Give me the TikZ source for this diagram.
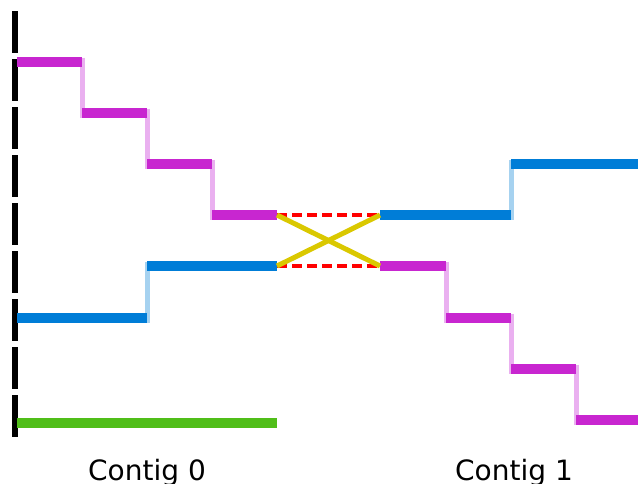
\documentclass[tikz,border=0pt]{standalone}
\usepackage{fontspec}
\setmainfont{DejaVu Sans}
\usepackage{xcolor}

\definecolor{magbar}{RGB}{200,38,208}
\definecolor{magfaint}{RGB}{234,176,240}
\definecolor{bluebar}{RGB}{0,125,215}
\definecolor{bluefaint}{RGB}{166,210,240}
\definecolor{greenbar}{RGB}{80,190,25}
\definecolor{joinyellow}{RGB}{218,200,0}

\begin{document}
\begin{tikzpicture}[x=1pt, y=-1pt,
    bar/.style={line width=9.5pt},
    riser/.style={line width=5pt, shorten <=-4.5pt, shorten >=-4.5pt},
    gap/.style={red, line width=4.5pt, dash pattern=on 10pt off 5pt},
    cross/.style={joinyellow, line width=5pt}]
    \useasboundingbox (0,0) rectangle (638,483);
    % Axis
    \draw[line width=5.5pt, dash pattern=on 42pt off 6pt] (15,11) -- (15,437);
    % Contig 0 risers
    \draw[riser, magfaint] (82,62) -- (82,113);
    \draw[riser, magfaint] (147,113) -- (147,164);
    \draw[riser, magfaint] (212,164) -- (212,215);
    \draw[riser, bluefaint] (147,318) -- (147,266);
    % Contig 0 bars
    \draw[bar, magbar] (17,62) -- (82,62);
    \draw[bar, magbar] (82,113) -- (147,113);
    \draw[bar, magbar] (147,164) -- (212,164);
    \draw[bar, magbar] (212,215) -- (277,215) coordinate (endmag);
    \draw[bar, bluebar] (17,318) -- (147,318);
    \draw[bar, bluebar] (147,266) -- (277,266) coordinate (endblue);
    \draw[bar, greenbar] (17,423) -- (277,423);
    % Contig 1 risers
    \draw[riser, bluefaint] (511,215) -- (511,164);
    \draw[riser, magfaint] (446,266) -- (446,318);
    \draw[riser, magfaint] (511,318) -- (511,369);
    \draw[riser, magfaint] (576,369) -- (576,420);
    % Contig 1 bars
    \draw[bar, bluebar] (380,215) coordinate (startblue) -- (511,215);
    \draw[bar, bluebar] (511,164) -- (638,164);
    \draw[bar, magbar] (380,266) coordinate (startmag) -- (446,266);
    \draw[bar, magbar] (446,318) -- (511,318);
    \draw[bar, magbar] (511,369) -- (576,369);
    \draw[bar, magbar] (576,420) -- (638,420);
    % Gaps and joins
    \draw[gap] (endmag) -- (startblue);
    \draw[gap] (endblue) -- (startmag);
    \draw[cross] (endmag) -- (startmag);
    \draw[cross] (endblue) -- (startblue);
    % Labels
    \node[anchor=base, font=\fontsize{28}{34}\selectfont] (label0) at (147,480) {Contig 0};
    \node[anchor=base, font=\fontsize{28}{34}\selectfont] (label1) at (514,480) {Contig 1};
\end{tikzpicture}
\end{document}
